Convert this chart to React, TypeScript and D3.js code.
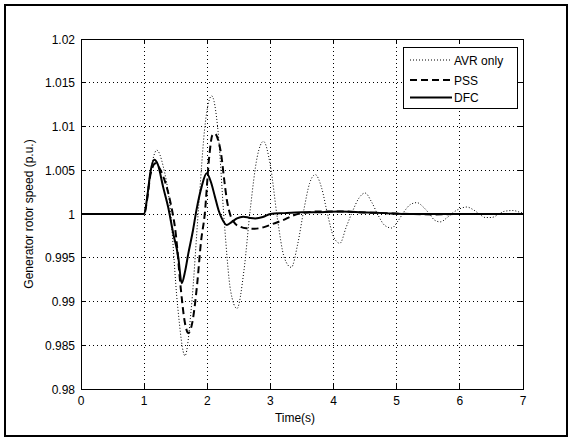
import React from "react";
import * as d3 from "d3";

const xTicks = [0, 1, 2, 3, 4, 5, 6, 7];
const yTicks = [0.98, 0.985, 0.99, 0.995, 1, 1.005, 1.01, 1.015, 1.02];
const yTickLabels = ["0.98", "0.985", "0.99", "0.995", "1", "1.005", "1.01", "1.015", "1.02"];

const avrT = [0, 1.0, 1.08, 1.2, 1.3, 1.41, 1.53, 1.647, 1.75, 1.86, 1.97, 2.07, 2.17, 2.27, 2.37, 2.47, 2.58, 2.68, 2.79, 2.89, 3.0, 3.11, 3.22, 3.33, 3.43, 3.53, 3.62, 3.71, 3.81, 3.91, 4.0, 4.1, 4.2, 4.3, 4.4, 4.5, 4.6, 4.71, 4.81, 4.92, 5.02, 5.12, 5.22, 5.32, 5.42, 5.52, 5.6, 5.69, 5.8, 5.9, 6.0, 6.11, 6.21, 6.31, 6.4, 6.5, 6.6, 6.7, 6.84, 6.95, 7.0];
const avrV = [1.0, 1.0, 1.004, 1.0073, 1.0055, 1.0008, 0.9895, 0.9838, 0.9895, 1.0005, 1.0105, 1.0135, 1.0095, 0.999, 0.9912, 0.9892, 0.9935, 1.0005, 1.0065, 1.0083, 1.0055, 0.9995, 0.995, 0.9939, 0.9965, 1.0005, 1.0035, 1.0045, 1.003, 0.9998, 0.9974, 0.99665, 0.9985, 1.0003, 1.0018, 1.0024, 1.0014, 0.9998, 0.9987, 0.9984, 0.9992, 1.0003, 1.0011, 1.0013, 1.0008, 1.0, 0.9993, 0.9991, 0.9996, 1.0002, 1.0006, 1.0008, 1.0005, 1.0, 0.9996, 0.9996, 0.9999, 1.0003, 1.0004, 1.0002, 1.0001];

const pssT = [0, 1.0, 1.05, 1.1, 1.18, 1.26, 1.34, 1.42, 1.5, 1.58, 1.64, 1.7, 1.76, 1.84, 1.9, 1.96, 2.03, 2.08, 2.12, 2.17, 2.22, 2.27, 2.31, 2.36, 2.44, 2.52, 2.62, 2.75, 2.9, 3.05, 3.2, 3.35, 3.5, 3.8, 4.1, 4.4, 4.8, 5.2, 5.6, 6.0, 7.0];
const pssV = [1.0, 1.0, 1.0018, 1.0045, 1.0058, 1.005, 1.0035, 1.0012, 0.9978, 0.9915, 0.9878, 0.9864, 0.9875, 0.992, 0.9968, 1.0, 1.0065, 1.009, 1.0092, 1.0085, 1.0068, 1.0038, 1.0016, 1.0, 0.9989, 0.99855, 0.99836, 0.99832, 0.9985, 0.9989, 0.9993, 0.9998, 1.0001, 1.0003, 1.0003, 1.0002, 1.0001, 1.0, 0.99995, 1.0, 1.0];

const dfcT = [0, 1.0, 1.05, 1.1, 1.16, 1.22, 1.3, 1.38, 1.46, 1.54, 1.595, 1.65, 1.7, 1.77, 1.83, 1.91, 1.99, 2.06, 2.12, 2.18, 2.23, 2.31, 2.39, 2.47, 2.57, 2.68, 2.76, 2.88, 3.0, 3.2, 3.5, 3.8, 4.1, 4.4, 4.8, 5.2, 6.0, 7.0];
const dfcV = [1.0, 1.0, 1.002, 1.0048, 1.0062, 1.0056, 1.0031, 1.0008, 0.9978, 0.9951, 0.9921, 0.9935, 0.9955, 0.998, 1.0005, 1.0031, 1.00465, 1.0036, 1.002, 1.0004, 0.9995, 0.99874, 0.9991, 0.9995, 0.9997, 0.99955, 0.9995, 0.99965, 1.0, 1.0001, 1.0002, 1.0002, 1.0003, 1.0002, 1.0001, 1.0, 1.0, 1.0];

const legendLabels = ["AVR only", "PSS", "DFC"];

const W = 571;
const H = 437;
const X0 = 81, X1 = 523, Y0 = 39, Y1 = 389;
const FONT = "'Liberation Sans', Arial, sans-serif";

export default function App() {
  const x = d3.scaleLinear().domain([0, 7]).range([X0, X1]);
  const y = d3.scaleLinear().domain([0.98, 1.02]).range([Y1, Y0]);
  const line = d3
    .line<[number, number]>()
    .x((d) => x(d[0]))
    .y((d) => y(d[1]))
    .curve(d3.curveMonotoneX);
  const zip = (t: number[], v: number[]) => t.map((tt, i) => [tt, v[i]] as [number, number]);

  const series = [
    { d: zip(avrT, avrV), dash: "1,2", w: 1, color: "#000" },
    { d: zip(pssT, pssV), dash: "7,4", w: 2, color: "#000" },
    { d: zip(dfcT, dfcV), dash: undefined, w: 2, color: "#000" },
  ];

  const lx = 403, ly = 47, lw = 114, lh = 61;
  const legendY = [60, 80, 97.5];

  return (
    <svg width={W} height={H} style={{ position: "absolute", left: 0, top: 0, background: "#fff" }} fontFamily={FONT}>
      <rect x={0} y={0} width={W} height={H} fill="#fff" />
      <rect x={5} y={5} width={562} height={431} fill="none" stroke="#000" strokeWidth={2} />
      <rect x={X0} y={Y0} width={X1 - X0} height={Y1 - Y0} fill="#fff" />
      {/* grid */}
      <g stroke="#000" strokeWidth={1} strokeDasharray="1,3" shapeRendering="crispEdges">
        {xTicks.slice(1, -1).map((t) => (
          <line key={"gx" + t} x1={x(t)} x2={x(t)} y1={Y0} y2={Y1} />
        ))}
        {yTicks.slice(1, -1).map((v) => (
          <line key={"gy" + v} x1={X0} x2={X1} y1={y(v)} y2={y(v)} />
        ))}
      </g>
      {/* curves */}
      <g fill="none" strokeLinejoin="round">
        {series.map((s, i) => (
          <path key={i} d={line(s.d) || ""} stroke={s.color} strokeWidth={s.w} strokeDasharray={s.dash} />
        ))}
      </g>
      {/* box and ticks */}
      <g stroke="#000" strokeWidth={1} shapeRendering="crispEdges">
        <rect x={X0} y={Y0} width={X1 - X0} height={Y1 - Y0} fill="none" />
        {xTicks.map((t) => (
          <g key={"tx" + t}>
            <line x1={x(t)} x2={x(t)} y1={Y1} y2={Y1 - 5} />
            <line x1={x(t)} x2={x(t)} y1={Y0} y2={Y0 + 5} />
          </g>
        ))}
        {yTicks.map((v) => (
          <g key={"ty" + v}>
            <line x1={X0} x2={X0 + 5} y1={y(v)} y2={y(v)} />
            <line x1={X1} x2={X1 - 5} y1={y(v)} y2={y(v)} />
          </g>
        ))}
      </g>
      {/* tick labels */}
      <g fontSize={12} fill="#000">
        {xTicks.map((t) => (
          <text key={"lx" + t} x={x(t)} y={405} textAnchor="middle">
            {t}
          </text>
        ))}
        {yTicks.map((v, i) => (
          <text key={"ly" + v} x={75} y={y(v) + 4.5} textAnchor="end">
            {yTickLabels[i]}
          </text>
        ))}
      </g>
      <text x={295} y={422} fontSize={12} textAnchor="middle">
        Time(s)
      </text>
      <text transform={`translate(33,${(Y0 + Y1) / 2}) rotate(-90)`} fontSize={12} textAnchor="middle">
        Generator rotor speed (p.u.)
      </text>
      {/* legend */}
      <rect x={lx} y={ly} width={lw} height={lh} fill="#fff" stroke="#000" strokeWidth={1} shapeRendering="crispEdges" />
      {series.map((s, i) => (
        <g key={"lg" + i}>
          <line x1={410} x2={452} y1={legendY[i]} y2={legendY[i]} stroke={s.color} strokeWidth={s.w} strokeDasharray={s.dash} />
          <text x={454} y={legendY[i] + 4.5} fontSize={12}>
            {legendLabels[i]}
          </text>
        </g>
      ))}
    </svg>
  );
}
